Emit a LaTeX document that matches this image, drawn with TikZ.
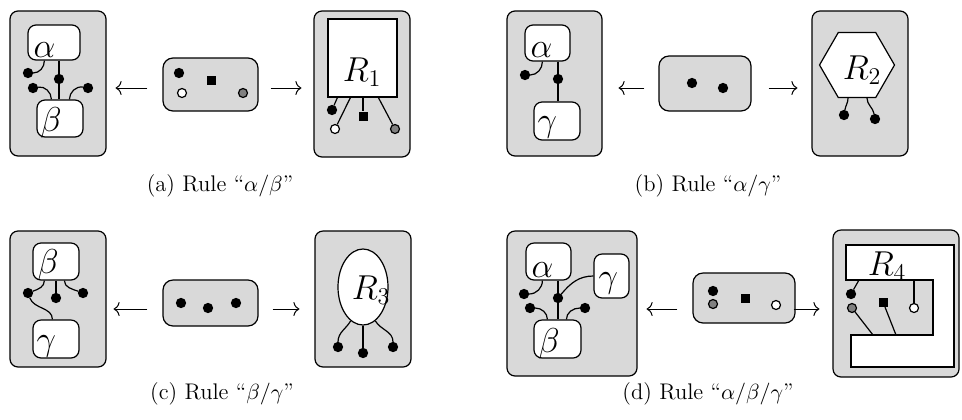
\documentclass[tikz,border=0pt]{standalone}
\usetikzlibrary{arrows.meta,positioning,fit,calc,shapes.geometric}

\begin{document}
\begin{tikzpicture}[
    x=0.5pt, y=-0.5pt, line width=0.6pt,
    panel/.style={draw, fill=gray!30, rounded corners=4pt, inner sep=0pt},
    iface/.style={draw, fill=gray!30, rounded corners=5pt, inner sep=0pt},
    ebox/.style={draw, fill=white, rounded corners=4pt, inner sep=0pt},
    rbox/.style={draw, fill=white, inner sep=0pt},
    lbl/.style={font=\LARGE, inner sep=0pt, anchor=base west},
    rlbl/.style={font=\LARGE, inner sep=0pt},
    subcap/.style={font=\fontsize{11.3}{13}\selectfont},
    bdot/.style={circle, draw, fill=black, inner sep=0pt, minimum size=4.5pt},
    wdot/.style={bdot, fill=white},
    gdot/.style={bdot, fill=gray},
    sqr/.style={rectangle, fill=black, inner sep=0pt, minimum size=4.5pt},
    span/.style={-{To[length=3pt, width=7pt]}, line width=0.5pt},
  ]
    \useasboundingbox (0,0) rectangle (962,419);

    % (a)
    \node[panel, fit={(10,11) (106,156)}] (l1) {};
    \node[ebox, fit={(28,25) (80,60)}] (a1) {};
    \node[lbl] (a1t) at (33,57) {$\alpha$};
    \node[ebox, fit={(37,100) (83,137)}] (b1) {};
    \node[lbl] (b1t) at (40,131) {$\beta$};
    \node[bdot] (d11) at (28,73) {};
    \node[bdot] (d12) at (59,79) {};
    \node[bdot] (d13) at (33,88) {};
    \node[bdot] (d14) at (88,88) {};
    \draw (d11) to[out=0, in=-90] ($(a1.south west)+(17,0)$);
    \draw (a1.south -| d12) -- (b1.north -| d12);
    \draw (d13) to[out=10, in=90] ($(b1.north west)+(15,0)$);
    \draw (d14) to[out=170, in=90] ($(b1.north west)+(33,0)$);

    \node[iface, fit={(163,58) (258,111)}] (k1) {};
    \node[bdot] (k11) at (179,73) {};
    \node[wdot] (k12) at (182,93) {};
    \node[sqr] (k13) at (211,80) {};
    \node[gdot] (k14) at (243,93) {};

    \node[panel, fit={(314,11) (410,157)}] (p1) {};
    \node[rbox, fit={(328,19) (397,97)}] (r1) {};
    \node[rlbl] (r1t) at (362,72) {$R_1$};
    \node[bdot] (r11) at (332,110) {};
    \node[wdot] (r12) at (335,129) {};
    \node[sqr] (r13) at (363,116) {};
    \node[gdot] (r14) at (395,129) {};
    \draw ($(r1.south west)+(10,0)$) -- (r11);
    \draw ($(r1.south west)+(23,0)$) -- (r12);
    \draw (r1.south -| r13) -- (r13);
    \draw ($(r1.south west)+(51,0)$) -- (r14);

    \draw[span, shorten <=7.5pt, shorten >=4.5pt] (k1.west |- 0,88) -- (l1.east |- 0,88);
    \draw[span, shorten <=6pt, shorten >=6pt] (k1.east |- 0,88) -- (p1.west |- 0,88);
    \node[subcap] (capa) at (220,186) {(a) Rule “$\alpha/\beta$”};

    % (b)
    \node[panel, fit={(507,11) (602,156)}] (l2) {};
    \node[ebox, fit={(525,25) (570,61)}] (a2) {};
    \node[lbl] (a2t) at (530,57) {$\alpha$};
    \node[ebox, fit={(534,102) (580,140)}] (g2) {};
    \node[lbl] (g2t) at (537,131) {$\gamma$};
    \node[bdot] (d21) at (525,75) {};
    \node[bdot] (d22) at (558,79) {};
    \draw (d21) to[out=0, in=-90] ($(a2.south west)+(18,0)$);
    \draw (a2.south -| d22) -- (g2.north -| d22);

    \node[iface, fit={(659,56) (751,111)}] (k2) {};
    \node[bdot] (k21) at (692,83) {};
    \node[bdot] (k22) at (723,88) {};

    \node[panel, fit={(812,11) (908,156)}] (p2) {};
    \node[rbox, regular polygon, regular polygon sides=6, minimum size=37.5pt] (r2) at (857,65) {};
    \node[rlbl] (r2t) at (862,70) {$R_2$};
    \node[bdot] (r21) at (844,115) {};
    \node[bdot] (r22) at (875,119) {};
    \draw ($(r2.south)+(-9,0)$) to[out=-90, in=80] (r21);
    \draw ($(r2.south)+(10,0)$) to[out=-90, in=100] (r22);

    \draw[span, shorten <=7pt, shorten >=8pt] (k2.west |- 0,88) -- (l2.east |- 0,88);
    \draw[span, shorten <=8.5pt, shorten >=7pt] (k2.east |- 0,88) -- (p2.west |- 0,88);
    \node[subcap] (capb) at (708,186) {(b) Rule “$\alpha/\gamma$”};

    % (c)
    \node[panel, fit={(10,231) (106,367)}] (l3) {};
    \node[ebox, fit={(33,243) (79,280)}] (b3) {};
    \node[lbl] (b3t) at (37,273) {$\beta$};
    \node[ebox, fit={(33,320) (79,358)}] (g3) {};
    \node[lbl] (g3t) at (36,350) {$\gamma$};
    \node[bdot] (d31) at (28,293) {};
    \node[bdot] (d32) at (56,298) {};
    \node[bdot] (d33) at (83,293) {};
    \draw (d31) to[out=20, in=-90] ($(b3.south west)+(12,0)$);
    \draw (b3.south -| d32) -- (d32);
    \draw (d33) to[out=160, in=-90] ($(b3.south west)+(32,0)$);
    \draw (d31) to[out=-70, in=90] ($(g3.north west)+(20,0)$);

    \node[iface, fit={(163,280) (258,326)}] (k3) {};
    \node[bdot] (k31) at (181,303) {};
    \node[bdot] (k32) at (208,308) {};
    \node[bdot] (k33) at (236,303) {};

    \node[panel, fit={(315,231) (411,367)}] (p3) {};
    \node[rbox, ellipse, minimum width=25pt, minimum height=38pt] (r3) at (363,287) {};
    \node[rlbl] (r3t) at (371,290) {$R_3$};
    \node[bdot] (r31) at (338,347) {};
    \node[bdot] (r32) at (363,353) {};
    \node[bdot] (r33) at (393,347) {};
    \draw (r3.-110) to[out=-120, in=90] (r31);
    \draw (r3.south) -- (r32);
    \draw (r3.-70) to[out=-60, in=90] (r33);

    \draw[span, shorten <=7.5pt, shorten >=3.5pt] (k3.west |- 0,309) -- (l3.east |- 0,309);
    \draw[span, shorten <=7pt, shorten >=7.5pt] (k3.east |- 0,309) -- (p3.west |- 0,309);
    \node[subcap] (capc) at (222,394) {(c) Rule “$\beta/\gamma$”};

    % (d)
    \node[panel, fit={(507,231) (637,376)}] (l4) {};
    \node[ebox, fit={(526,243) (571,280)}] (a4) {};
    \node[lbl] (a4t) at (531,277) {$\alpha$};
    \node[ebox, fit={(594,254) (629,298)}] (g4) {};
    \node[lbl] (g4t) at (598,287) {$\gamma$};
    \node[ebox, fit={(534,320) (581,358)}] (b4) {};
    \node[lbl] (b4t) at (538,352) {$\beta$};
    \node[bdot] (d41) at (524,294) {};
    \node[bdot] (d42) at (558,298) {};
    \node[bdot] (d43) at (530,308) {};
    \node[bdot] (d44) at (585,308) {};
    \draw (d41) to[out=0, in=-90] ($(a4.south west)+(17,0)$);
    \draw (a4.south -| d42) -- (b4.north -| d42);
    \draw (d42) to[out=50, in=180] (g4.west);
    \draw (d43) to[out=0, in=90] ($(b4.north west)+(14,0)$);
    \draw (d44) to[out=180, in=90] ($(b4.north west)+(33,0)$);

    \node[iface, fit={(693,273) (795,323)}] (k4) {};
    \node[bdot] (k41) at (713,291) {};
    \node[gdot] (k42) at (713,304) {};
    \node[sqr] (k43) at (745,298) {};
    \node[wdot] (k44) at (776,305) {};

    \node[panel, fit={(833,230) (959,377)}] (p4) {};
    \draw[rbox] (846,245) -- (954,245) -- (954,367) -- (851,367) -- (851,335)
      -- (933,335) -- (933,280) -- (846,280) -- cycle;
    \coordinate (r4top) at (846,280);
    \coordinate (r4bot) at (851,335);
    \node[rlbl] (r4t) at (887,266) {$R_4$};
    \node[bdot] (r41) at (851,294) {};
    \node[gdot] (r42) at (852,308) {};
    \node[sqr] (r43) at (883,302) {};
    \node[wdot] (r44) at (914,308) {};
    \draw ($(r4top)+(13,0)$) -- (r41);
    \draw (r42) -- ($(r4bot)+(22,0)$);
    \draw (r43) -- ($(r4bot)+(45,0)$);
    \draw (r44) -- (r44 |- r4top);

    \draw[span, shorten <=7.5pt, shorten >=4.5pt] (k4.west |- 0,309) -- (l4.east |- 0,309);
    \draw[span, shorten <=-1pt, shorten >=6.5pt] (k4.east |- 0,309) -- (p4.west |- 0,309);
    \node[subcap] (capd) at (708,394) {(d) Rule “$\alpha/\beta/\gamma$”};
  \end{tikzpicture}
\end{document}
